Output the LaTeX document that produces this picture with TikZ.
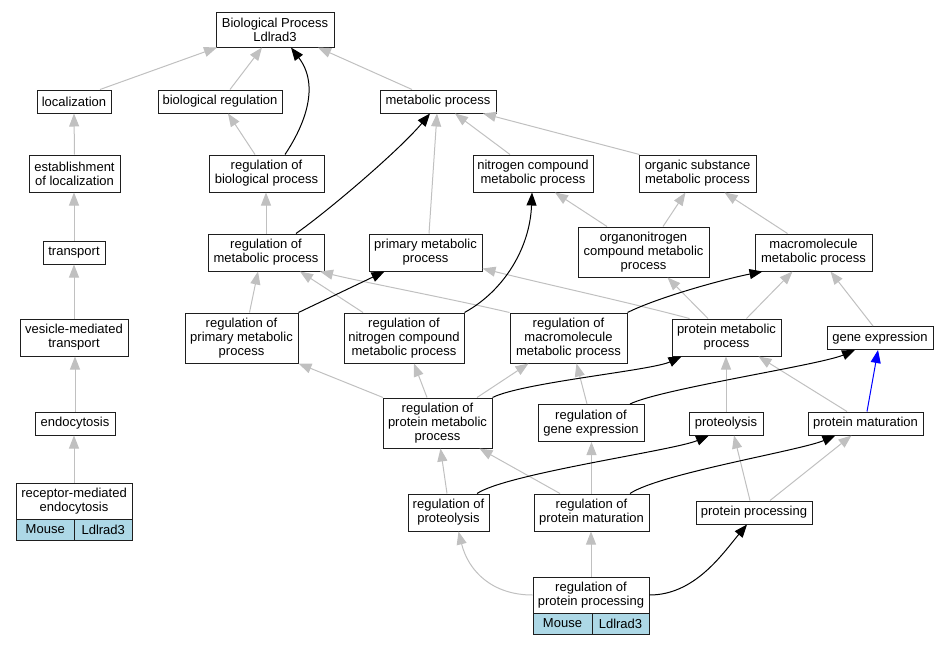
\documentclass[tikz,border=0pt]{standalone}
\usepackage{fontspec}
\setmainfont{Liberation Sans}
\usetikzlibrary{arrows.meta}
\definecolor{edgegray}{RGB}{192,192,192}
\definecolor{cellblue}{RGB}{173,216,230}
\definecolor{boxline}{RGB}{30,30,30}
\begin{document}
\begin{tikzpicture}[x=1pt,y=-1pt,
  box/.style={draw=boxline,line width=1pt,fill=white,inner sep=0pt,align=center,font=\fontsize{13}{14}\selectfont},
  cell/.style={box,fill=cellblue},
  gedge/.style={draw=edgegray,line width=1pt,-{Triangle[length=13pt,width=10pt]}},
  bedge/.style={draw=black,line width=1pt,-{Triangle[length=13pt,width=10pt]}},
  uedge/.style={draw=blue,line width=1pt,-{Triangle[length=13pt,width=10pt]}}]
\useasboundingbox (0,0) rectangle (948,645);
% nodes
\node[box,minimum width=118,minimum height=35] (bp) at (275,29.5) {Biological Process\\Ldlrad3};
\node[box,minimum width=74,minimum height=23] (loc) at (74,101.5) {localization};
\node[box,minimum width=124,minimum height=23] (bioreg) at (220,101.5) {biological regulation};
\node[box,minimum width=116,minimum height=23] (met) at (438,101.5) {metabolic process};
\node[box,minimum width=91,minimum height=37] (estab) at (74.5,173.5) {establishment\\of localization};
\node[box,minimum width=115,minimum height=37] (regbio) at (266.5,173.5) {regulation of\\biological process};
\node[box,minimum width=120,minimum height=37] (nitro) at (533,173.5) {nitrogen compound\\metabolic process};
\node[box,minimum width=117,minimum height=37] (organic) at (697.5,173.5) {organic substance\\metabolic process};
\node[box,minimum width=62,minimum height=23] (transport) at (74,252.5) {transport};
\node[box,minimum width=116,minimum height=37] (regmet) at (266,252.5) {regulation of\\metabolic process};
\node[box,minimum width=113,minimum height=37] (primary) at (425.5,252.5) {primary metabolic\\process};
\node[box,minimum width=131,minimum height=50] (orgnitro) at (643.5,252) {organonitrogen\\compound metabolic\\process};
\node[box,minimum width=117,minimum height=37] (macro) at (813.5,252.5) {macromolecule\\metabolic process};
\node[box,minimum width=108,minimum height=37] (vesicle) at (74,337.5) {vesicle-mediated\\transport};
\node[box,minimum width=113,minimum height=50] (regprim) at (241.5,338) {regulation of\\primary metabolic\\process};
\node[box,minimum width=120,minimum height=50] (regnitro) at (404,338) {regulation of\\nitrogen compound\\metabolic process};
\node[box,minimum width=117,minimum height=50] (regmacro) at (568.5,338) {regulation of\\macromolecule\\metabolic process};
\node[box,minimum width=109,minimum height=37] (protmet) at (726.5,337.5) {protein metabolic\\process};
\node[box,minimum width=106,minimum height=23] (geneexp) at (880,338) {gene expression};
\node[box,minimum width=80,minimum height=23] (endo) at (75,423.5) {endocytosis};
\node[box,minimum width=109,minimum height=50] (regprotmet) at (437.5,423) {regulation of\\protein metabolic\\process};
\node[box,minimum width=106,minimum height=37] (reggene) at (591,423) {regulation of\\gene expression};
\node[box,minimum width=74,minimum height=23] (proteolysis) at (726,423.5) {proteolysis};
\node[box,minimum width=115,minimum height=23] (protmat) at (865.5,423.5) {protein maturation};
\node[box,minimum width=116,minimum height=36] (rme) at (74,501) {receptor-mediated\\endocytosis};
\node[cell,minimum width=58.5,minimum height=21] (mouse1) at (45.25,529.5) {Mouse};
\node[cell,minimum width=57.5,minimum height=21] (lrad1) at (103.25,529.5) {Ldlrad3};
\node[box,minimum width=81,minimum height=37] (regproteolysis) at (448.5,512.5) {regulation of\\proteolysis};
\node[box,minimum width=115,minimum height=37] (regprotmat) at (591.5,512.5) {regulation of\\protein maturation};
\node[box,minimum width=116,minimum height=23] (protproc) at (754,512.5) {protein processing};
\node[box,minimum width=116,minimum height=36] (rpp) at (591,595) {regulation of\\protein processing};
\node[cell,minimum width=59,minimum height=21] (mouse2) at (562.5,623.5) {Mouse};
\node[cell,minimum width=57,minimum height=21] (lrad2) at (620.5,623.5) {Ldlrad3};
% gray edges
\draw[gedge] ([xshift=26]loc.north) -- ([xshift=-58]bp.south);
\draw[gedge] ([xshift=10]bioreg.north) -- ([xshift=-13]bp.south);
\draw[gedge] ([xshift=-26]met.north) -- ([xshift=43]bp.south);
\draw[gedge] (estab.north) -- (loc.south);
\draw[gedge] (transport.north) -- (transport.north |- estab.south);
\draw[gedge] (vesicle.north) -- (transport.south);
\draw[gedge] (endo.north) -- (endo.north |- vesicle.south);
\draw[gedge] (rme.north) -- (rme.north |- endo.south);
\draw[gedge] ([xshift=-11.5]regbio.north) -- ([xshift=8]bioreg.south);
\draw[gedge] (regmet.north) -- (regmet.north |- regbio.south);
\draw[gedge] ([xshift=3.5]primary.north) -- ([xshift=-1]met.south);
\draw[gedge] ([xshift=-23]nitro.north) -- ([xshift=17]met.south);
\draw[gedge] ([xshift=-58]organic.north) -- ([xshift=45]met.south);
\draw[gedge] ([xshift=-36.5]orgnitro.north) -- ([xshift=22]nitro.south);
\draw[gedge] ([xshift=19.5]orgnitro.north) -- ([xshift=-12]organic.south);
\draw[gedge] ([xshift=-26]macro.north) -- ([xshift=27]organic.south);
\draw[gedge] ([xshift=8]regprim.north) -- ([xshift=-8]regmet.south);
\draw[gedge] ([xshift=-41]regnitro.north) -- ([xshift=34]regmet.south);
\draw[gedge] (regmacro.north west) .. controls +(-60,-14) and +(40,10) .. ([xshift=54]regmet.south);
\draw[gedge] ([xshift=-37]protmet.north) .. controls +(-60,-16) and +(60,15) .. ([yshift=3]primary.south east);
\draw[gedge] ([xshift=-18.5]protmet.north) -- ([xshift=24]orgnitro.south);
\draw[gedge] ([xshift=20]protmet.north) -- ([xshift=-21]macro.south);
\draw[gedge] ([xshift=-7]geneexp.north) -- ([xshift=17]macro.south);
\draw[gedge] ([xshift=-54.5]regprotmet.north) -- (regprim.south east);
\draw[gedge] ([xshift=-10.5]regprotmet.north) -- ([xshift=10]regnitro.south);
\draw[gedge] ([xshift=39.5]regprotmet.north) -- ([xshift=-40]regmacro.south);
\draw[gedge] ([xshift=-4]reggene.north) -- ([xshift=8]regmacro.south);
\draw[gedge] (proteolysis.north) -- (proteolysis.north |- protmet.south);
\draw[gedge] ([xshift=-18.5]protmat.north) -- ([xshift=32]protmet.south);
\draw[gedge] ([xshift=-31.5]regprotmat.north) -- ([xshift=42]regprotmet.south);
\draw[gedge] ([xshift=-1.5]regproteolysis.north) -- ([xshift=3]regprotmet.south);
\draw[gedge] (regprotmat.north) -- (regprotmat.north |- reggene.south);
\draw[gedge] ([xshift=-4]protproc.north) -- ([xshift=8]proteolysis.south);
\draw[gedge] ([xshift=16]protproc.north) -- ([xshift=-14]protmat.south);
\draw[gedge] (rpp.west) .. controls +(-40,0) and +(10,40) .. ([xshift=10]regproteolysis.south);
\draw[gedge] (rpp.north) -- (rpp.north |- regprotmat.south);
% black edges
\draw[bedge] ([xshift=18.5]regbio.north) .. controls +(20,-30) and +(29,38) .. ([xshift=16]bp.south);
\draw[bedge] ([xshift=30]regmet.north) .. controls +(34,-24) and +(-30,36) .. ([xshift=-8]met.south);
\draw[bedge] (regprim.north east) -- ([xshift=-41]primary.south);
\draw[bedge] (regnitro.north east) .. controls +(40,-22) and +(-2,55) .. ([xshift=-1]nitro.south);
\draw[bedge] (regmacro.north east) .. controls +(30,-15) and +(-40,8) .. ([xshift=-51]macro.south);
\draw[bedge] (regprotmet.north east) .. controls +(30,-15) and +(-30,14) .. ([xshift=-45]protmet.south);
\draw[bedge] ([xshift=39]reggene.north) .. controls +(30,-15) and +(-35,15) .. ([xshift=-25]geneexp.south);
\draw[bedge] ([xshift=28.5]regproteolysis.north) .. controls +(30,-20) and +(-35,15) .. ([xshift=-17]proteolysis.south);
\draw[bedge] ([xshift=38.5]regprotmat.north) .. controls +(30,-20) and +(-35,15) .. ([xshift=-30]protmat.south);
\draw[bedge] (rpp.east) .. controls +(45,0) and +(-25,30) .. ([xshift=-7]protproc.south);
% blue edge
\draw[uedge] ([xshift=1.5]protmat.north) -- ([xshift=-2]geneexp.south);
\end{tikzpicture}
\end{document}
